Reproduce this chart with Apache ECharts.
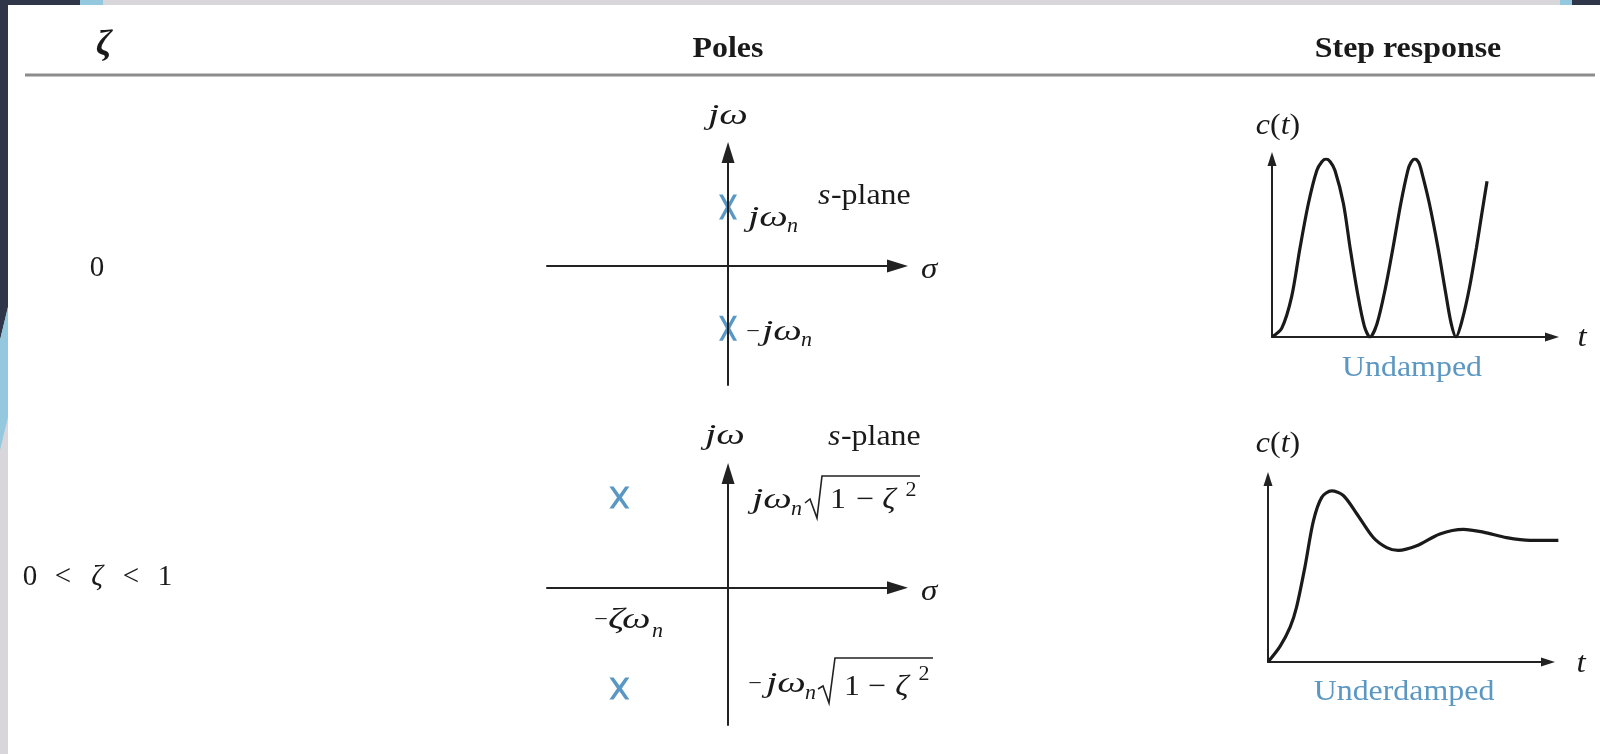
<!DOCTYPE html>
<html>
<head>
<meta charset="utf-8">
<script src="https://cdn.jsdelivr.net/npm/echarts@6/dist/echarts.min.js"></script>
<style>
  html, body { margin: 0; padding: 0; background: #fff; }
  #chart { width: 1600px; height: 754px; }
</style>
</head>
<body>
<div id="chart"></div>
<script>
// pole locations in the s-plane, [sigma, jw]
const polesUndamped = [[0, 0.52], [0, -0.55]];
const polesUnderdamped = [[-0.6, 0.79], [-0.6, -0.88]];

// step responses c(t)
const undampedT = [0, 0.35, 0.7, 1.0, 1.3, 1.6, 1.78, 1.93, 2.08, 2.25, 2.55, 2.79, 3.05, 3.3, 3.5, 3.75, 4.05, 4.32, 4.6, 4.85, 4.96, 5.1, 5.24, 5.35, 5.62, 5.93, 6.2, 6.4, 6.57, 6.8, 7.05, 7.3, 7.5, 7.68];
const undampedC = [0, 0.1, 0.45, 1.0, 1.5, 1.87, 1.97, 2.0, 1.97, 1.87, 1.5, 1.0, 0.5, 0.12, 0, 0.15, 0.55, 1.0, 1.5, 1.87, 1.96, 2.0, 1.96, 1.85, 1.5, 1.0, 0.5, 0.15, 0, 0.2, 0.55, 1.0, 1.4, 1.75];
const underdampedT = [0, 0.43, 0.79, 1.02, 1.32, 1.62, 1.92, 2.27, 2.69, 3.17, 3.76, 4.24, 4.65, 5.31, 6.14, 6.98, 7.69, 8.52, 9.36, 10.37];
const underdampedC = [0, 0.17, 0.38, 0.6, 1.04, 1.54, 1.8, 1.87, 1.82, 1.62, 1.36, 1.25, 1.22, 1.27, 1.4, 1.45, 1.42, 1.36, 1.33, 1.33];

const headers = ['ζ', 'Poles', 'Step response'];
const rowLabels = ['0', '0 < ζ < 1'];
const responseNames = ['Undamped', 'Underdamped'];

const SERIF = "'Liberation Serif', 'Times New Roman', serif";
const INK = '#1a1a1a';
const POLE = '#2f7db5';
const NOTE = '#5b97c2';
const CROSS = 'path://M0,0 L4.2,0 L10,8.2 L15.8,0 L20,0 L12.4,11 L20,22 L15.8,22 L10,13.8 L4.2,22 L0,22 L7.6,11 Z';

function label(x, y, text, opt) {
  opt = opt || {};
  const size = opt.size || 29;
  const align = opt.align || 'left';
  return {
    type: 'text', x: x, y: y, scaleX: opt.sx || 1.1, silent: true,
    style: {
      text: text,
      font: (opt.italic ? 'italic ' : '') + (opt.bold ? 'bold ' : '') + size + 'px ' + SERIF,
      fill: opt.color || INK,
      textAlign: align, textVerticalAlign: 'middle',
      align: align, verticalAlign: 'middle',
      rich: opt.rich
    }
  };
}
// italic math symbols, a bit wider than the stock face
function math(x, y, text, opt) {
  opt = opt || {};
  return label(x, y, text, { italic: true, size: opt.size || 30, sx: opt.sx || 1.35, align: opt.align });
}
function radical(points) {
  return { type: 'polyline', silent: true, shape: { points: points }, style: { stroke: '#222', lineWidth: 1.6, fill: null } };
}
const ct = { i: { fontStyle: 'italic', fontSize: 29, fontFamily: SERIF } };

function axis(gi, min, max, arrow) {
  return {
    type: 'value', gridIndex: gi, min: min, max: max,
    axisLine: { show: true, onZero: true, symbol: ['none', 'triangle'], symbolSize: arrow,
      lineStyle: { color: '#222', width: 2 } },
    axisTick: { show: false }, axisLabel: { show: false }, splitLine: { show: false }
  };
}

const zetaTokens = rowLabels[1].split(' ');
const zetaX = [30, 63, 97, 131, 165];

const graphics = [
  // slide frame
  { type: 'rect', shape: { x: 0, y: 0, width: 8, height: 754 }, style: { fill: '#d8d6da' } },
  { type: 'polygon', shape: { points: [[0, 0], [8, 0], [8, 307], [0, 340]] }, style: { fill: '#30364a' } },
  { type: 'polygon', shape: { points: [[8, 307], [8, 417], [0, 450], [0, 340]] }, style: { fill: '#93c8df' } },
  { type: 'rect', shape: { x: 0, y: 0, width: 80, height: 5 }, style: { fill: '#30364a' } },
  { type: 'rect', shape: { x: 80, y: 0, width: 23, height: 5 }, style: { fill: '#93c8df' } },
  { type: 'rect', shape: { x: 103, y: 0, width: 1457, height: 5 }, style: { fill: '#d8d6da' } },
  { type: 'rect', shape: { x: 1560, y: 0, width: 12, height: 5 }, style: { fill: '#93c8df' } },
  { type: 'rect', shape: { x: 1572, y: 0, width: 28, height: 5 }, style: { fill: '#30364a' } },
  // table header
  { type: 'line', shape: { x1: 25, y1: 75, x2: 1595, y2: 75 }, style: { stroke: '#8c8c8c', lineWidth: 3 } },
  label(104, 46, headers[0], { italic: true, bold: true, size: 36, align: 'center', sx: 1 }),
  label(728, 50, headers[1], { bold: true, align: 'center' }),
  label(1408, 50, headers[2], { bold: true, align: 'center' }),
  // zeta column
  label(97, 268, rowLabels[0], { align: 'center', sx: 1 }),
  // undamped s-plane
  math(728, 116, 'jω', { align: 'center' }),
  math(748, 218, 'jω'),
  math(787, 227, 'n', { size: 20, sx: 1.1 }),
  label(818, 196, 's', { italic: true }),
  label(831, 196, '-plane'),
  label(753, 332, '−', { align: 'center', size: 22 }),
  math(762, 332, 'jω'),
  math(801, 341, 'n', { size: 20, sx: 1.1 }),
  math(921, 270, 'σ', { sx: 1.1 }),
  // underdamped s-plane
  math(725, 436, 'jω', { align: 'center' }),
  label(828, 437, 's', { italic: true }),
  label(841, 437, '-plane'),
  math(752, 500, 'jω'),
  math(791, 510, 'n', { size: 20, sx: 1.1 }),
  radical([[805, 503], [810, 499], [817, 518], [822, 476], [920, 476]]),
  label(838, 500, '1', { align: 'center' }),
  label(865, 500, '−', { align: 'center' }),
  math(889, 500, 'ζ', { align: 'center', sx: 1.1 }),
  label(911, 491, '2', { align: 'center', size: 20 }),
  math(921, 592, 'σ', { sx: 1.1 }),
  label(601, 620, '−', { align: 'center', size: 22 }),
  math(608, 620, 'ζω'),
  math(652, 632, 'n', { size: 20, sx: 1.1 }),
  label(755, 684, '−', { align: 'center', size: 22 }),
  math(766, 684, 'jω'),
  math(805, 694, 'n', { size: 20, sx: 1.1 }),
  radical([[818, 689], [823, 686], [829, 703], [835, 658], [933, 658]]),
  label(852, 687, '1', { align: 'center' }),
  label(877, 687, '−', { align: 'center' }),
  math(902, 687, 'ζ', { align: 'center', sx: 1.1 }),
  label(924, 675, '2', { align: 'center', size: 20 }),
  // step responses
  label(1278, 126, '{i|c}({i|t})', { align: 'center', rich: ct }),
  math(1582, 338, 't', { align: 'center', sx: 1.1 }),
  label(1412, 368, responseNames[0], { align: 'center', color: NOTE }),
  label(1278, 444, '{i|c}({i|t})', { align: 'center', rich: ct }),
  math(1581, 664, 't', { align: 'center', sx: 1.1 }),
  label(1404, 692, responseNames[1], { align: 'center', color: NOTE })
];
zetaTokens.forEach(function (tok, i) {
  graphics.push(label(zetaX[i], 577, tok, { align: 'center', sx: 1, italic: tok === 'ζ' }));
});

const hidden = function (gi, min, max) {
  return { type: 'value', gridIndex: gi, min: min, max: max, show: false };
};

const chart = echarts.init(document.getElementById('chart'));
chart.setOption({
  backgroundColor: '#ffffff',
  animation: false,
  grid: [
    { left: 547, top: 152.5, width: 350.5, height: 232.5 },
    { left: 547, top: 473.5, width: 350.5, height: 251.5 },
    { left: 1272, top: 159, width: 280, height: 178 },
    { left: 1268, top: 479, width: 280, height: 183 },
    // the underdamped trace runs a little past the t-axis arrow
    { left: 1268, top: 479, width: 294, height: 183 }
  ],
  xAxis: [
    axis(0, -1, 0.936, [13, 21]),
    axis(1, -1, 0.936, [13, 21]),
    axis(2, 0, 10, [9, 14]),
    axis(3, 0, 10, [9, 14]),
    hidden(4, 0, 10.5)
  ],
  yAxis: [
    axis(0, -1.05, 1, [13, 21]),
    axis(1, -1.2, 1, [13, 21]),
    axis(2, 0, 2, [9, 14]),
    axis(3, 0, 2, [9, 14]),
    hidden(4, 0, 2)
  ],
  series: [
    // drawn under the jw axis, which runs through these crosses
    { type: 'scatter', xAxisIndex: 0, yAxisIndex: 0, data: polesUndamped, z: -1,
      symbol: CROSS, symbolSize: [18, 25], itemStyle: { color: POLE }, silent: true },
    { type: 'scatter', xAxisIndex: 1, yAxisIndex: 1, data: polesUnderdamped,
      symbol: CROSS, symbolSize: [20, 22], itemStyle: { color: POLE }, silent: true },
    { type: 'line', xAxisIndex: 2, yAxisIndex: 2, smooth: 0.3, symbol: 'none',
      data: undampedT.map(function (t, i) { return [t, undampedC[i]]; }),
      lineStyle: { color: INK, width: 3.2 }, silent: true },
    { type: 'line', xAxisIndex: 4, yAxisIndex: 4, smooth: 0.3, symbol: 'none',
      data: underdampedT.map(function (t, i) { return [t, underdampedC[i]]; }),
      lineStyle: { color: INK, width: 3.2 }, silent: true }
  ],
  graphic: graphics
});
</script>
</body>
</html>
